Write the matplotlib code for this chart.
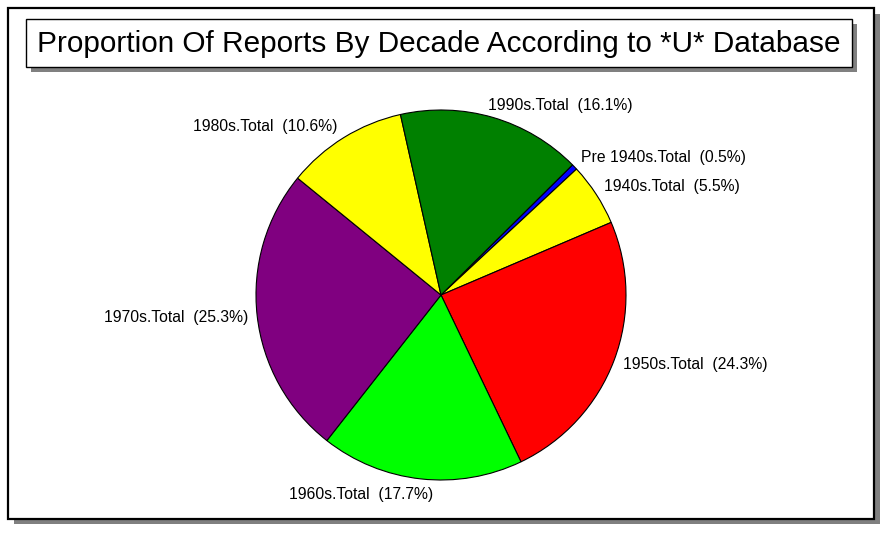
import matplotlib
matplotlib.use("Agg")
import matplotlib.pyplot as plt
from matplotlib.patches import Rectangle

plt.rcParams['font.family'] = ['Liberation Sans', 'DejaVu Sans']

categories = ["Pre 1940s.Total", "1940s.Total", "1950s.Total", "1960s.Total",
              "1970s.Total", "1980s.Total", "1990s.Total"]
values = [0.5, 5.5, 24.3, 17.7, 25.3, 10.6, 16.1]
colors = ["#0000FF", "#FFFF00", "#FF0000", "#00FF00", "#800080", "#FFFF00", "#008000"]
title = "Proportion Of Reports By Decade According to *U* Database"

W, H = 889, 535
fig = plt.figure(figsize=(W / 100, H / 100), dpi=100)
fig.patch.set_facecolor("white")

def rect(x0, y0, x1, y1, **kw):
    # pixel coords (top-left origin) -> figure coords
    r = Rectangle((x0 / W, 1 - y1 / H), (x1 - x0) / W, (y1 - y0) / H,
                  transform=fig.transFigure, **kw)
    fig.add_artist(r)
    return r

# outer frame with shadow
rect(14, 14, 880, 524, facecolor="#808080", edgecolor="none", zorder=0)
rect(8, 8, 874, 519, facecolor="white", edgecolor="black", linewidth=1.6, zorder=1)
# title box with shadow
rect(31, 24, 857, 72, facecolor="#808080", edgecolor="none", zorder=2)
rect(26, 19, 852, 67, facecolor="white", edgecolor="black", linewidth=1.0, zorder=3)
fig.text(439 / W, 1 - 44 / H, title, ha="center", va="center", fontsize=21.4,
         zorder=4)

cx, cy, r = 441, 295, 185
ax = fig.add_axes([(cx - r) / W, 1 - (cy + r) / H, 2 * r / W, 2 * r / H])
ax.set_zorder(5)
labels = [f"{c}  ({v:.1f}%)" for c, v in zip(categories, values)]
wedges, texts = ax.pie(values, colors=colors, labels=labels, startangle=44.7,
                       counterclock=False, labeldistance=1.05,
                       wedgeprops=dict(edgecolor="black", linewidth=0.8),
                       textprops=dict(fontsize=11.3))
# small layout nudges (axes units) to mimic the original label placement
nudges = {0: (0.0, 0.015), 1: (0.0, 0.012), 2: (0.0, -0.003),
          3: (0.072, -0.032), 4: (0.0, -0.004), 5: (-0.01, 0.016),
          6: (-0.041, 0.019)}
for i, t in enumerate(texts):
    x, y = t.get_position()
    dx, dy = nudges.get(i, (0, 0))
    t.set_position((x + dx, y + dy))
    t.set_clip_on(False)
ax.set_xlim(-1, 1)
ax.set_ylim(-1, 1)
ax.set_aspect("auto")
ax.axis("off")

fig.savefig("out.png", dpi=100)
